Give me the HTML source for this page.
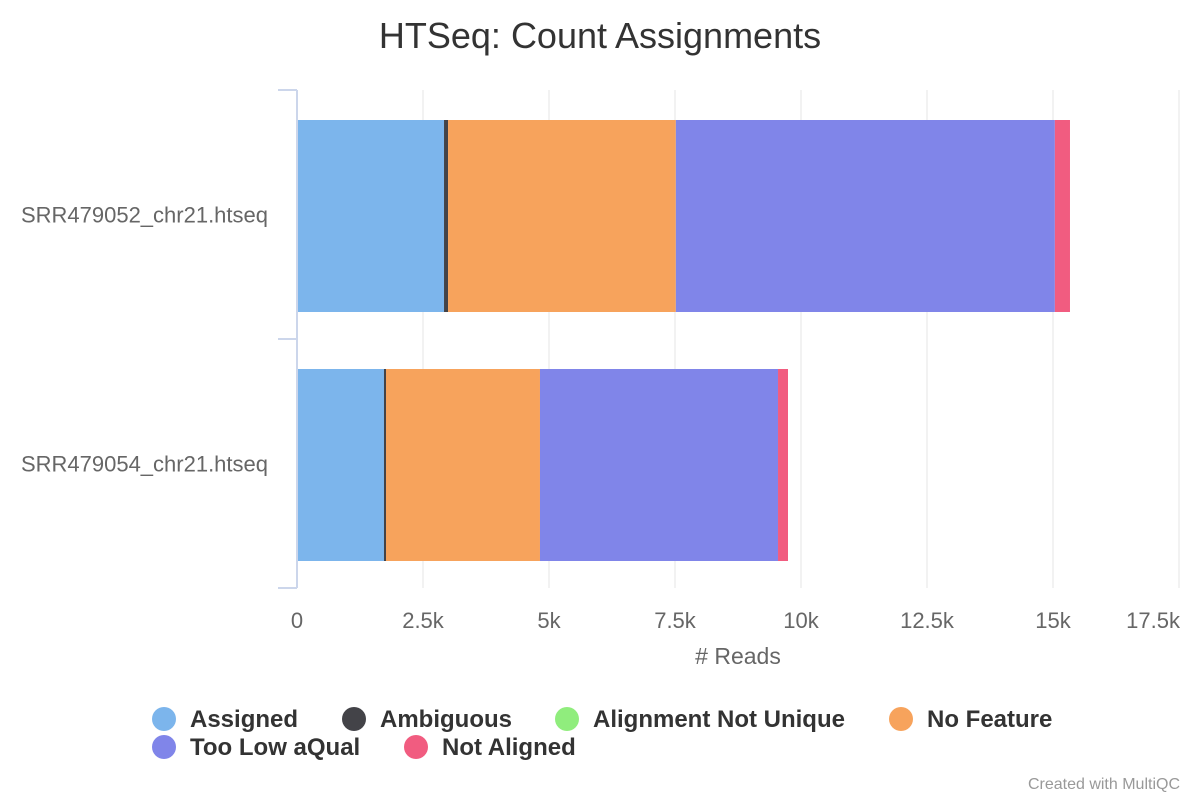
<!DOCTYPE html>
<html><head><meta charset="utf-8"><style>
html,body{margin:0;padding:0;background:#fff;width:1200px;height:800px;overflow:hidden;font-family:"Liberation Sans",sans-serif}
</style></head><body>
<svg id="chart" width="1200" height="800" xmlns="http://www.w3.org/2000/svg">
<text x="600" y="48" text-anchor="middle" font-size="36" fill="#333">HTSeq: Count Assignments</text>
<g id="grid"></g><g id="bars"></g><g id="axes"></g><g id="legend"></g>
<text x="1180" y="789" text-anchor="end" font-size="16" fill="#999">Created with MultiQC</text>
</svg>
<script>
const samples = ["SRR479052_chr21.htseq","SRR479054_chr21.htseq"];
const seriesNames = ["Assigned","Ambiguous","Alignment Not Unique","No Feature","Too Low aQual","Not Aligned"];
const colors = ["#7cb5ec","#434348","#90ed7d","#f7a35c","#8085e9","#f15c80"];
const assigned = [2917,1726];
const ambiguous = [80,40];
const notUnique = [0,0];
const noFeature = [4520,3055];
const tooLowQual = [7520,4723];
const notAligned = [300,198];
const ticks = [0,2500,5000,7500,10000,12500,15000,17500];
const tickLabels = ["0","2.5k","5k","7.5k","10k","12.5k","15k","17.5k"];

const NS="http://www.w3.org/2000/svg";
const x0=297, pxPer=126/2500, plotTop=90, plotBottom=588;
const xs=v=>x0+v*pxPer;
function mk(tag,attrs,parent){const e=document.createElementNS(NS,tag);for(const k in attrs)e.setAttribute(k,attrs[k]);document.getElementById(parent).appendChild(e);return e;}
const seriesData=[assigned,ambiguous,notUnique,noFeature,tooLowQual,notAligned];
ticks.forEach((t,i)=>{
  if(i>0){const g=mk('line',{x1:xs(t),x2:xs(t),y1:plotTop,y2:plotBottom,stroke:'#e6e6e6','stroke-width':1},'grid');
  
  }
  const last=i===ticks.length-1;
  const l=mk('text',{x:last?1180:xs(t),y:628,'text-anchor':last?'end':'middle','font-size':22,fill:'#666'},'axes');
  l.textContent=tickLabels[i];
  
  
});
const band=(plotBottom-plotTop)/samples.length;
samples.forEach((s,i)=>{
  const y=plotTop+band*i+30, h=band-57;
  let acc=0;
  seriesData.forEach((arr,k)=>{
    const v=arr[i]; if(v<=0){return;}
    const r=mk('rect',{x:xs(acc),y:y,width:v*pxPer,height:h,fill:colors[k]},'bars');
    
    
    acc+=v;
  });
  const t=mk('text',{x:268,y:plotTop+band*i+band/2+8,'text-anchor':'end','font-size':22,fill:'#666'},'axes');
  t.textContent=s;
  
  
});
const ax=mk('line',{x1:297,x2:297,y1:plotTop,y2:plotBottom,stroke:'#ccd6eb','stroke-width':2},'axes');


for(let i=0;i<=samples.length;i++){const tk=mk('line',{x1:278,x2:297,y1:plotTop+band*i,y2:plotTop+band*i,stroke:'#ccd6eb','stroke-width':2},'axes');

}
const xt=mk('text',{x:738,y:664,'text-anchor':'middle','font-size':23,fill:'#666'},'axes');
xt.textContent="# Reads";


const lpos=[[164,719],[354,719],[567,719],[901,719],[164,747],[416,747]];
seriesNames.forEach((n,k)=>{
  const c=mk('circle',{cx:lpos[k][0],cy:lpos[k][1],r:12,fill:colors[k]},'legend');
  
  
  const t=mk('text',{x:lpos[k][0]+26,y:lpos[k][1]+8,'font-size':24,'font-weight':'bold',fill:'#333'},'legend');
  t.textContent=n;
  
  
});
</script>
</body></html>
